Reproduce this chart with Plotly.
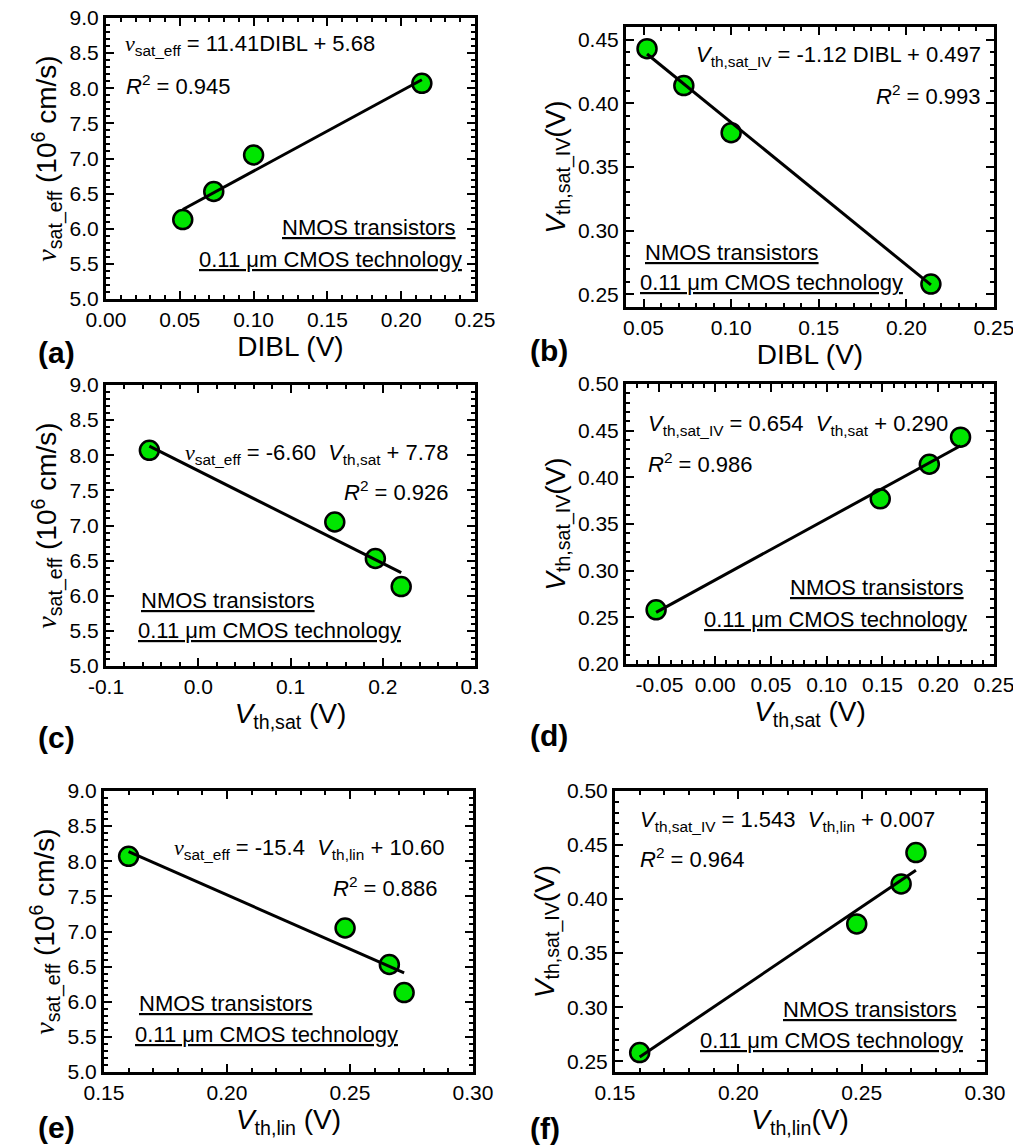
import plotly.graph_objects as go

# ---------------- data ----------------
dibl = [0.052, 0.073, 0.100, 0.214]
vsat_eff = [6.13, 6.53, 7.05, 8.07]
vth_sat_iv = [0.443, 0.414, 0.377, 0.258]
vth_sat = [0.220, 0.192, 0.148, -0.053]
vth_lin = [0.272, 0.266, 0.248, 0.160]

# linear fits printed on the panels: slope, intercept
fit_slope = [11.41, -1.12, -6.60, 0.654, -15.4, 1.543]
fit_intercept = [5.68, 0.497, 7.78, 0.290, 10.60, 0.007]

# tick labels
vsat_ticks = ["5.0", "5.5", "6.0", "6.5", "7.0", "7.5", "8.0", "8.5", "9.0"]
dibl_ticks_a = ["0.00", "0.05", "0.10", "0.15", "0.20", "0.25"]
dibl_ticks_b = ["0.05", "0.10", "0.15", "0.20", "0.25"]
vthiv_ticks_b = ["0.25", "0.30", "0.35", "0.40", "0.45"]
vthsat_ticks_c = ["-0.1", "0.0", "0.1", "0.2", "0.3"]
vthsat_ticks_d = ["-0.05", "0.00", "0.05", "0.10", "0.15", "0.20", "0.25"]
vthiv_ticks_d = ["0.20", "0.25", "0.30", "0.35", "0.40", "0.45", "0.50"]
vthlin_ticks = ["0.15", "0.20", "0.25", "0.30"]
vthiv_ticks_f = ["0.25", "0.30", "0.35", "0.40", "0.45", "0.50"]

# page: 1021x1145 window; the page body has an 8 px default margin
OFF = 8
W, H = 1021 - OFF, 1145 - OFF
FONT = "Liberation Sans"
GREEN = "#00E600"
NU = '<span style="font-family:Liberation Serif"><i>ν</i></span>'


def px(xp):
    return (xp - OFF) / W


def py(yp):
    return 1 - (yp - OFF) / H


ytitle_v = NU + "<sub>sat_eff</sub> (10<sup>6</sup> cm/s)"
ytitle_iv = "<i>V</i><sub>th,sat_IV</sub>(V)"

panels = [
    dict(x=dibl, y=vsat_eff, box=(106, 475, 18, 299),
         xr=[0.0, 0.25], yr=[5.0, 9.0], xt=dibl_ticks_a, yt=vsat_ticks,
         xminor=0.01, yminor=0.1, x0=0.0, y0=5.0,
         xtitle="DIBL (V)", ytitle=ytitle_v, label="(a)", lab=(36, 352),
         eq=NU + "<sub>sat_eff</sub> = 11.41DIBL + 5.68", eqpos=(0.046, 0.905, "left"),
         r2="<i>R</i><sup>2</sup> = 0.945", r2pos=(0.049, 0.76, "left"),
         n1pos=(0.954, 0.256, "right"), n2pos=(0.970, 0.139, "right")),
    dict(x=dibl, y=vth_sat_iv, box=(626, 994, 27, 307),
         xr=[0.04, 0.25], yr=[0.24, 0.46], xt=dibl_ticks_b, yt=vthiv_ticks_b,
         xminor=0.01, yminor=0.01, x0=0.04, y0=0.24,
         xtitle="DIBL (V)", ytitle=ytitle_iv, label="(b)", lab=(528, 350),
         eq="<i>V</i><sub>th,sat_IV</sub> = -1.12 DIBL + 0.497", eqpos=(0.970, 0.895, "right"),
         r2="<i>R</i><sup>2</sup> = 0.993", r2pos=(0.970, 0.757, "right"),
         n1pos=(0.045, 0.194, "left"), n2pos=(0.033, 0.087, "left")),
    dict(x=vth_sat, y=vsat_eff, box=(106, 475, 385, 666),
         xr=[-0.1, 0.3], yr=[5.0, 9.0], xt=vthsat_ticks_c, yt=vsat_ticks,
         xminor=0.02, yminor=0.1, x0=-0.1, y0=5.0,
         xtitle="<i>V</i><sub>th,sat</sub> (V)", ytitle=ytitle_v, label="(c)", lab=(36, 738),
         eq=NU + "<sub>sat_eff</sub> = -6.60  <i>V</i><sub>th,sat</sub> + 7.78", eqpos=(0.208, 0.755, "left"),
         r2="<i>R</i><sup>2</sup> = 0.926", r2pos=(0.934, 0.623, "right"),
         n1pos=(0.090, 0.232, "left"), n2pos=(0.081, 0.128, "left")),
    dict(x=vth_sat, y=vth_sat_iv, box=(626, 994, 384, 664),
         xr=[-0.08, 0.25], yr=[0.20, 0.50], xt=vthsat_ticks_d, yt=vthiv_ticks_d,
         xminor=0.01, yminor=0.01, x0=-0.08, y0=0.20,
         xtitle="<i>V</i><sub>th,sat</sub> (V)", ytitle=ytitle_iv, label="(d)", lab=(528, 735),
         eq="<i>V</i><sub>th,sat_IV</sub> = 0.654  <i>V</i><sub>th,sat</sub> + 0.290", eqpos=(0.054, 0.855, "left"),
         r2="<i>R</i><sup>2</sup> = 0.986", r2pos=(0.054, 0.717, "left"),
         n1pos=(0.924, 0.274, "right"), n2pos=(0.933, 0.160, "right")),
    dict(x=vth_lin, y=vsat_eff, box=(104, 473, 791, 1072),
         xr=[0.15, 0.30], yr=[5.0, 9.0], xt=vthlin_ticks, yt=vsat_ticks,
         xminor=0.01, yminor=0.1, x0=0.15, y0=5.0,
         xtitle="<i>V</i><sub>th,lin</sub> (V)", ytitle=ytitle_v, label="(e)", lab=(36, 1127),
         eq=NU + "<sub>sat_eff</sub> = -15.4  <i>V</i><sub>th,lin</sub> + 10.60", eqpos=(0.183, 0.795, "left"),
         r2="<i>R</i><sup>2</sup> = 0.886", r2pos=(0.911, 0.659, "right"),
         n1pos=(0.089, 0.244, "left"), n2pos=(0.078, 0.132, "left")),
    dict(x=vth_lin, y=vth_sat_iv, box=(615, 985, 791, 1072),
         xr=[0.15, 0.30], yr=[0.24, 0.50], xt=vthlin_ticks, yt=vthiv_ticks_f,
         xminor=0.01, yminor=0.01, x0=0.15, y0=0.24,
         xtitle="<i>V</i><sub>th,lin</sub>(V)", ytitle=ytitle_iv, label="(f)", lab=(528, 1128),
         eq="<i>V</i><sub>th,sat_IV</sub> = 1.543  <i>V</i><sub>th,lin</sub> + 0.007", eqpos=(0.063, 0.895, "left"),
         r2="<i>R</i><sup>2</sup> = 0.964", r2pos=(0.063, 0.760, "left"),
         n1pos=(0.931, 0.223, "right"), n2pos=(0.946, 0.111, "right")),
]

fig = go.Figure()
annotations = []

for i, p in enumerate(panels):
    n = i + 1
    xa = "x" if n == 1 else f"x{n}"
    ya = "y" if n == 1 else f"y{n}"
    # data points
    fig.add_trace(go.Scatter(
        x=p["x"], y=p["y"], mode="markers", xaxis=xa, yaxis=ya,
        marker=dict(size=19, color=GREEN, line=dict(color="black", width=2.5)),
        showlegend=False, hoverinfo="x+y"))
    # fit line from the printed fit equation, over the data span
    xs = [min(p["x"]), max(p["x"])]
    ys = [fit_slope[i] * v + fit_intercept[i] for v in xs]
    fig.add_trace(go.Scatter(
        x=xs, y=ys, mode="lines", xaxis=xa, yaxis=ya,
        line=dict(color="black", width=3), showlegend=False, hoverinfo="skip"))

    x0p, x1p, y0p, y1p = p["box"]
    common = dict(
        showline=True, linecolor="black", linewidth=3, mirror="ticks",
        ticks="inside", ticklen=8, tickwidth=2, tickcolor="black",
        showgrid=False, zeroline=False, automargin=False,
        ticklabeloverflow="allow",
        tickfont=dict(family=FONT, size=21, color="black"),
        minor=dict(ticks="inside", ticklen=4, tickwidth=1.5, tickcolor="black", showgrid=False),
    )
    xvals = [float(t) for t in p["xt"]]
    yvals = [float(t) for t in p["yt"]]
    xaxis = dict(common, domain=[px(x0p), px(x1p)], range=p["xr"],
                 tickmode="array", tickvals=xvals, ticktext=p["xt"],
                 anchor=ya,
                 title=dict(text=p["xtitle"], font=dict(family=FONT, size=28, color="black"), standoff=4))
    xaxis["minor"] = dict(common["minor"], tickmode="linear", tick0=p["x0"], dtick=p["xminor"])
    yaxis = dict(common, domain=[py(y1p), py(y0p)], range=p["yr"],
                 tickmode="array", tickvals=yvals, ticktext=p["yt"],
                 anchor=xa,
                 title=dict(text=p["ytitle"], font=dict(family=FONT, size=28, color="black"), standoff=5))
    yaxis["minor"] = dict(common["minor"], tickmode="linear", tick0=p["y0"], dtick=p["yminor"])
    fig.update_layout(**{("xaxis" if n == 1 else f"xaxis{n}"): xaxis,
                         ("yaxis" if n == 1 else f"yaxis{n}"): yaxis})

    xd = f"{xa} domain"
    yd = f"{ya} domain"
    for txt, pos in [(p["eq"], p["eqpos"]), (p["r2"], p["r2pos"]),
                     ("<u>NMOS transistors</u>", p["n1pos"]),
                     ("<u>0.11 μm CMOS technology</u>", p["n2pos"])]:
        annotations.append(dict(
            text=txt, xref=xd, yref=yd, x=pos[0], y=pos[1],
            xanchor=pos[2], yanchor="middle", showarrow=False,
            font=dict(family=FONT, size=22, color="black")))
    annotations.append(dict(
        text="<b>" + p["label"] + "</b>", xref="paper", yref="paper",
        x=px(p["lab"][0]), y=py(p["lab"][1]), xanchor="left", yanchor="middle",
        showarrow=False, font=dict(family=FONT, size=30, color="black")))

fig.update_layout(
    width=W, height=H, margin=dict(l=0, r=0, t=0, b=0, autoexpand=False),
    paper_bgcolor="white", plot_bgcolor="white",
    annotations=annotations,
    font=dict(family=FONT, color="black"),
)

fig.write_html("out.html")
